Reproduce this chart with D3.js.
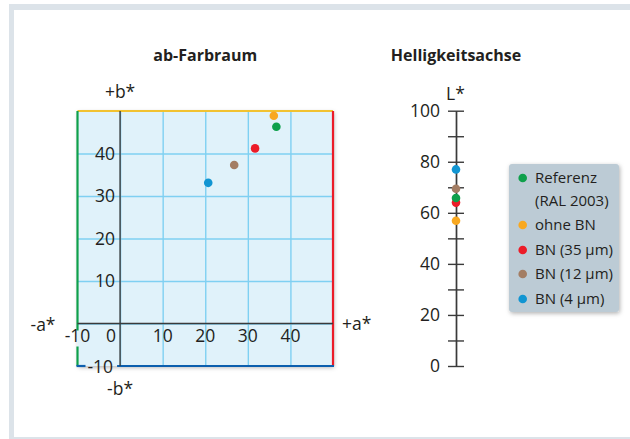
<!DOCTYPE html>
<html>
<head>
    <meta charset="utf-8">
    <title>ab-Farbraum und Helligkeitsachse</title>
    <script src="https://d3js.org/d3.v7.min.js"></script>
    <style>
        body {
            margin: 0;
            padding: 0;
            background: #fff;
            font-family: "Open Sans", "Noto Sans", sans-serif;
        }
        text {
            fill: #231f20;
        }
        .title {
            font-size: 16px;
            font-weight: 700;
        }
        .tick-label {
            font-size: 17.5px;
        }
        .legend-label {
            font-size: 15px;
        }
    </style>
</head>
<body>
    <div id="chart"></div>

    <script>
        // Data
        const series = ["Referenz", "ohne BN", "BN (35 µm)", "BN (12 µm)", "BN (4 µm)"];
        const aValues = [36.7, 36.1, 31.7, 26.8, 20.7];
        const bValues = [46.3, 48.9, 41.2, 37.3, 33.1];
        const lValues = [65.8, 56.9, 64.0, 69.4, 77.0];
        const colors = ["#0ea04b", "#f8a820", "#ec1c28", "#a37d63", "#1195d2"];
        const drawOrder = [3, 4, 1, 2, 0];

        const gridTicks = [0, 10, 20, 30, 40];
        const aTickLabels = [-10, 0, 10, 20, 30, 40];
        const bTickLabels = [10, 20, 30, 40];
        const lTicks = [0, 10, 20, 30, 40, 50, 60, 70, 80, 90, 100];
        const lTickLabels = [0, 20, 40, 60, 80, 100];

        const width = 630;
        const height = 439;

        const svg = d3.select("#chart")
            .append("svg")
            .attr("width", width)
            .attr("height", height);

        const defs = svg.append("defs");
        const shadow = defs.append("filter")
            .attr("id", "shadow")
            .attr("x", "-10%").attr("y", "-10%")
            .attr("width", "120%").attr("height", "120%");
        shadow.append("feDropShadow")
            .attr("dx", 1).attr("dy", 1.5)
            .attr("stdDeviation", 2)
            .attr("flood-color", "#000")
            .attr("flood-opacity", 0.3);

        // frame
        svg.append("rect")
            .attr("x", 9).attr("y", 4)
            .attr("width", width).attr("height", 435)
            .attr("fill", "#dce3e9");
        svg.append("rect")
            .attr("x", 14).attr("y", 10)
            .attr("width", width).attr("height", 427)
            .attr("fill", "#fff");

        // ---------- ab-Farbraum ----------
        const x = d3.scaleLinear().domain([-10, 50]).range([77.5, 333]);
        const y = d3.scaleLinear().domain([-10, 50]).range([366, 111]);

        svg.append("text")
            .attr("class", "title")
            .attr("x", (x(-10) + x(50)) / 2)
            .attr("y", 61)
            .attr("text-anchor", "middle")
            .text("ab-Farbraum");

        const plot = svg.append("g");

        plot.append("rect")
            .attr("x", x(-10)).attr("y", y(50))
            .attr("width", x(50) - x(-10))
            .attr("height", y(-10) - y(50))
            .attr("fill", "#e0f2fa")
            .style("filter", "url(#shadow)");

        // grid
        plot.append("g")
            .attr("transform", `translate(0,${y(-10)})`)
            .call(d3.axisBottom(x).tickValues(gridTicks)
                .tickSize(-(y(-10) - y(50))).tickFormat(""))
            .call(g => g.select(".domain").remove())
            .call(g => g.selectAll(".tick line")
                .attr("stroke", "#7fd0f2").attr("stroke-width", 1.4));

        plot.append("g")
            .attr("transform", `translate(${x(-10)},0)`)
            .call(d3.axisLeft(y).tickValues(gridTicks)
                .tickSize(-(x(50) - x(-10))).tickFormat(""))
            .call(g => g.select(".domain").remove())
            .call(g => g.selectAll(".tick line")
                .attr("stroke", "#7fd0f2").attr("stroke-width", 1.4));

        // coloured borders (broken where a tick label sits on them)
        const borders = [
            { x1: x(-10), y1: y(50), x2: x(50), y2: y(50), c: "#f2c230" },
            { x1: x(-10), y1: y(50), x2: x(-10), y2: y(0) + 7, c: "#0ea04b" },
            { x1: x(-10), y1: y(0) + 23, x2: x(-10), y2: y(-10), c: "#0ea04b" },
            { x1: x(50), y1: y(50), x2: x(50), y2: y(-10), c: "#ec1c28" },
            { x1: x(-10) - 1, y1: y(-10), x2: x(-10) + 8, y2: y(-10), c: "#0c5fae" },
            { x1: x(0) - 3, y1: y(-10), x2: x(50) + 1, y2: y(-10), c: "#0c5fae" }
        ];
        plot.selectAll(".border")
            .data(borders)
            .enter()
            .append("line")
            .attr("x1", d => d.x1).attr("y1", d => d.y1)
            .attr("x2", d => d.x2).attr("y2", d => d.y2)
            .attr("stroke", d => d.c)
            .attr("stroke-width", 2.2);

        // main axes a=0, b=0
        plot.append("line")
            .attr("x1", x(0)).attr("x2", x(0))
            .attr("y1", y(50)).attr("y2", y(-10))
            .attr("stroke", "#3a3a3a").attr("stroke-width", 1.4);
        plot.append("line")
            .attr("x1", x(-10)).attr("x2", x(50))
            .attr("y1", y(0)).attr("y2", y(0))
            .attr("stroke", "#3a3a3a").attr("stroke-width", 1.4);

        // tick labels
        plot.selectAll(".a-label")
            .data(aTickLabels)
            .enter()
            .append("text")
            .attr("class", "tick-label")
            .attr("x", d => d === 0 ? x(0) - 9 : x(d))
            .attr("y", y(0) + 18)
            .attr("text-anchor", "middle")
            .text(d => d);

        plot.selectAll(".b-label")
            .data(bTickLabels)
            .enter()
            .append("text")
            .attr("class", "tick-label")
            .attr("x", x(0) - 5)
            .attr("y", d => y(d))
            .attr("dy", "0.35em")
            .attr("text-anchor", "end")
            .text(d => d);

        plot.append("text")
            .attr("class", "tick-label")
            .attr("x", x(0) - 7)
            .attr("y", y(-10))
            .attr("dy", "0.4em")
            .attr("text-anchor", "end")
            .text(-10);

        // axis names
        const axisNames = [
            { t: "+b*", x: x(0), y: 98, anchor: "middle" },
            { t: "-b*", x: x(0), y: 395, anchor: "middle" },
            { t: "-a*", x: 43, y: 331, anchor: "middle" },
            { t: "+a*", x: 342, y: 330, anchor: "start" }
        ];
        svg.selectAll(".axis-name")
            .data(axisNames)
            .enter()
            .append("text")
            .attr("class", "tick-label")
            .attr("x", d => d.x)
            .attr("y", d => d.y)
            .attr("text-anchor", d => d.anchor)
            .text(d => d.t);

        // points
        plot.selectAll(".ab-dot")
            .data(drawOrder)
            .enter()
            .append("circle")
            .attr("cx", i => x(aValues[i]))
            .attr("cy", i => y(bValues[i]))
            .attr("r", 4.3)
            .attr("fill", i => colors[i]);

        // ---------- Helligkeitsachse ----------
        const lx = 456;
        const ly = d3.scaleLinear().domain([0, 100]).range([366, 110.7]);

        svg.append("text")
            .attr("class", "title")
            .attr("x", lx)
            .attr("y", 61)
            .attr("text-anchor", "middle")
            .text("Helligkeitsachse");

        const lAxis = svg.append("g")
            .attr("transform", `translate(${lx},0)`);

        lAxis.call(d3.axisLeft(ly).tickValues(lTicks).tickSize(8).tickSizeOuter(0)
                .tickPadding(8)
                .tickFormat(d => lTickLabels.includes(d) ? d : ""))
            .attr("font-family", null)
            .attr("font-size", null)
            .call(g => g.selectAll("line, path")
                .attr("stroke", "#3a3a3a").attr("stroke-width", 1.4))
            .call(g => g.selectAll("text")
                .attr("class", "tick-label")
                .attr("fill", "#231f20"));

        lAxis.append("g")
            .call(d3.axisRight(ly).tickValues(lTicks).tickSize(8).tickSizeOuter(0).tickFormat(""))
            .call(g => g.selectAll("line, path")
                .attr("stroke", "#3a3a3a").attr("stroke-width", 1.4));

        svg.append("text")
            .attr("class", "tick-label")
            .attr("x", lx - 10)
            .attr("y", 100)
            .text("L*");

        svg.append("g")
            .selectAll("circle")
            .data(drawOrder)
            .enter()
            .append("circle")
            .attr("cx", lx)
            .attr("cy", i => ly(lValues[i]))
            .attr("r", 4.3)
            .attr("fill", i => colors[i]);

        // ---------- legend ----------
        const legend = svg.append("g");
        legend.append("rect")
            .attr("x", 509).attr("y", 164)
            .attr("width", 110).attr("height", 148)
            .attr("rx", 3)
            .attr("fill", "#bccbd5")
            .style("filter", "url(#shadow)");

        const rowY = [178, 225, 250, 274, 299];
        const rows = legend.selectAll(".row")
            .data(series)
            .enter()
            .append("g")
            .attr("transform", (d, i) => `translate(0,${rowY[i]})`);

        rows.append("circle")
            .attr("cx", 522.7)
            .attr("r", 4.3)
            .attr("fill", (d, i) => colors[i]);

        rows.append("text")
            .attr("class", "legend-label")
            .attr("x", 535)
            .attr("dy", "0.35em")
            .text(d => d);

        legend.append("text")
            .attr("class", "legend-label")
            .attr("x", 535)
            .attr("y", 201)
            .attr("dy", "0.35em")
            .text("(RAL 2003)");
    </script>
</body>
</html>
